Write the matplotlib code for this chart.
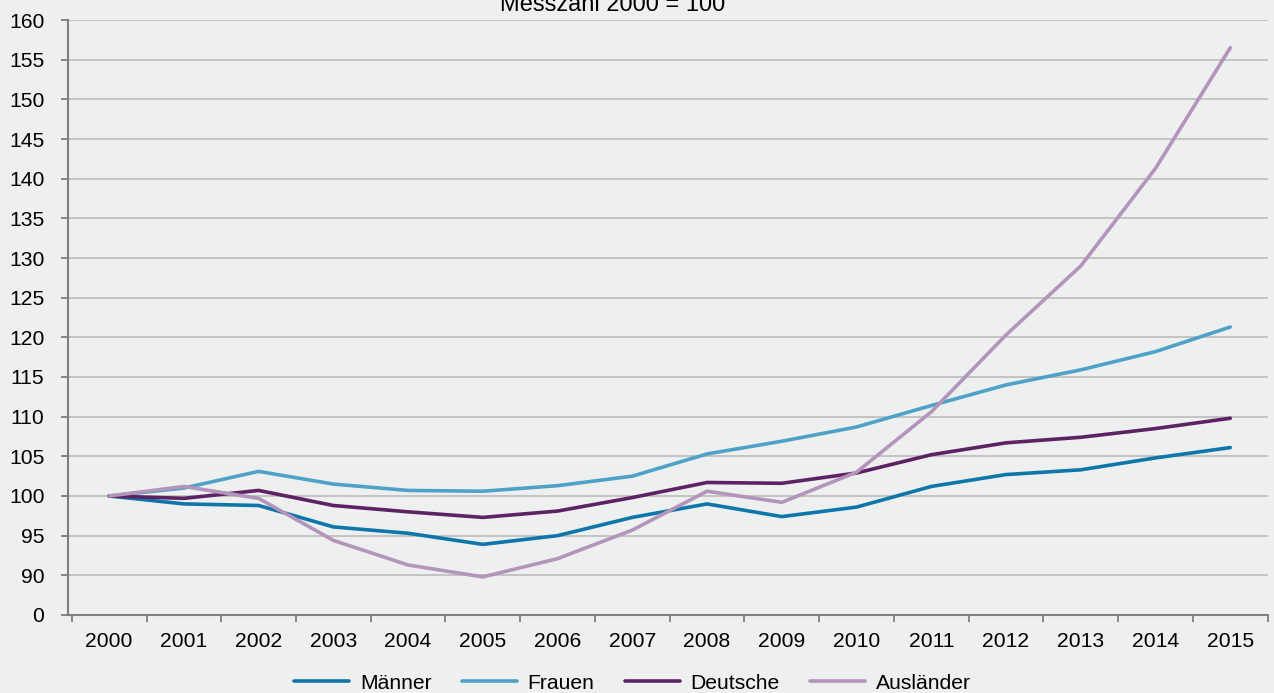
import numpy as np
import matplotlib
matplotlib.use("Agg")
from matplotlib import pyplot as plt

# data (Messzahl 2000 = 100)
years = list(range(2000, 2016))
maenner = [100, 99.0, 98.8, 96.1, 95.3, 93.9, 95.0, 97.3, 99.0, 97.4, 98.6, 101.2, 102.7, 103.3, 104.8, 106.1]
frauen = [100, 101.0, 103.1, 101.5, 100.7, 100.6, 101.3, 102.5, 105.3, 106.9, 108.7, 111.4, 114.0, 115.9, 118.2, 121.3]
deutsche = [100, 99.7, 100.7, 98.8, 98.0, 97.3, 98.1, 99.8, 101.7, 101.6, 102.9, 105.2, 106.7, 107.4, 108.5, 109.8]
auslaender = [100, 101.2, 99.7, 94.4, 91.3, 89.8, 92.1, 95.7, 100.6, 99.2, 103.0, 110.6, 120.3, 129.0, 141.3, 156.5]
names = ["Männer", "Frauen", "Deutsche", "Ausländer"]
colors = ["#0e76a8", "#4fa2c7", "#5c2263", "#b394bb"]

plt.rcParams['font.family'] = ['Liberation Sans', 'DejaVu Sans']
bg = "#eef0ef"
fs = 15.2

fig = plt.figure(figsize=(12.74, 6.93), dpi=100, facecolor=bg)
ax = fig.add_axes([0.0534, 0.1126, 0.9416, 0.8585])
ax.set_facecolor(bg)

x = np.arange(len(years))
for vals, name, col in zip([maenner, frauen, deutsche, auslaender], names, colors):
    ax.plot(x, vals, color=col, lw=2.6, label=name, solid_capstyle="round")

# broken axis: bottom tick shows 0, then 90..160
ax.set_ylim(85, 160)
yt = [85] + list(range(90, 161, 5))
ax.set_yticks(yt)
ax.set_yticklabels(["0"] + [str(v) for v in range(90, 161, 5)], fontsize=fs)
for v in range(90, 161, 5):
    ax.axhline(v, color="#c0c0c0", lw=1.3, zorder=0)

ax.set_xlim(-0.55, 15.38)
ax.set_xticks(np.arange(-0.5, 15.6, 1))
ax.set_xticklabels([])
ax.set_xticks(x, minor=True)
ax.set_xticklabels([str(y) for y in years], minor=True, fontsize=fs)
ax.tick_params(axis="x", which="minor", length=0, pad=12)
ax.tick_params(axis="x", which="major", length=5, color="#7f7f7f", width=1.3)
ax.tick_params(axis="y", length=5, color="#7f7f7f", width=1.3, pad=12)

for s in ["top", "right"]:
    ax.spines[s].set_visible(False)
for s in ["left", "bottom"]:
    ax.spines[s].set_color("#7f7f7f")
    ax.spines[s].set_linewidth(1.5)

# title sits partly above the top edge, as in the original
fig.text(0.4808, 0.984, "Messzahl 2000 = 100", ha="center", va="baseline", fontsize=17)

fig.legend(loc="lower center", bbox_to_anchor=(0.4965, -0.027), ncol=4, frameon=False,
           fontsize=fs, handlelength=2.6, columnspacing=1.45, handletextpad=0.5)

fig.savefig("out.png", dpi=100, facecolor=bg)
